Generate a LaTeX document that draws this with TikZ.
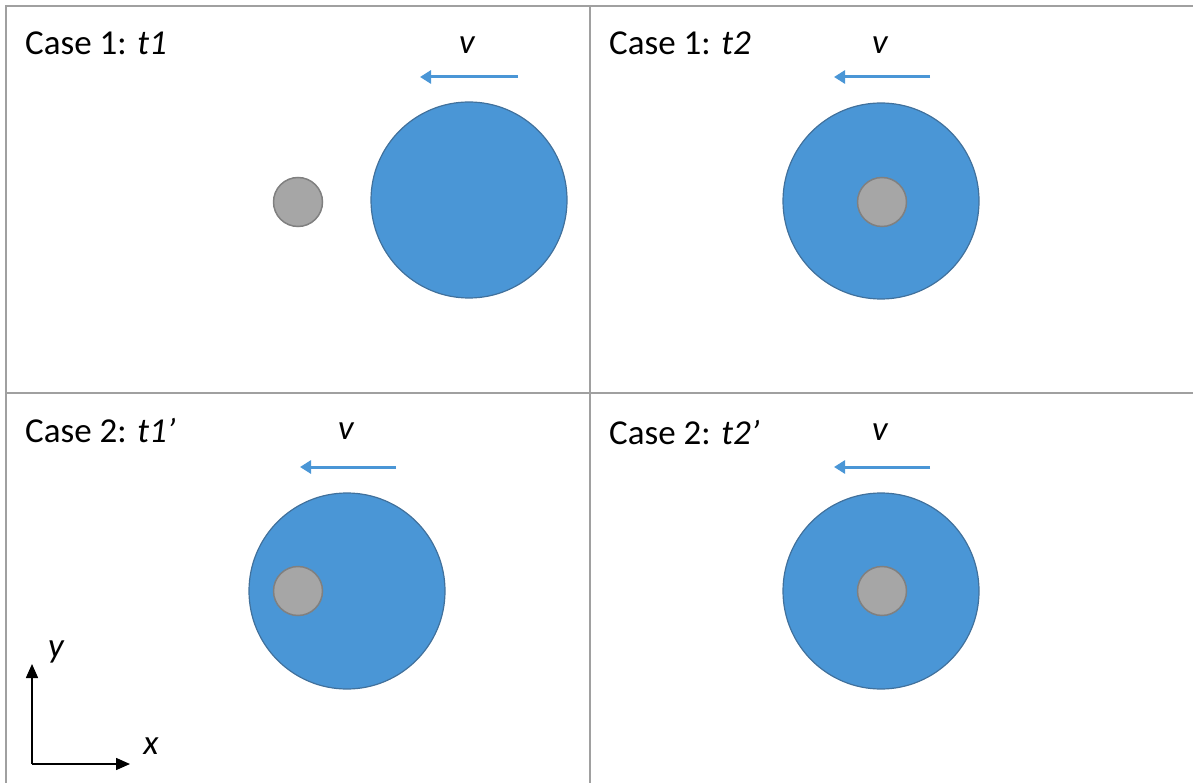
\documentclass[tikz,border=0pt]{standalone}
\usepackage{fontspec}
\setmainfont{Carlito}
\usepackage{tikz}
\usepackage{xcolor}
\definecolor{discblue}{RGB}{74,150,214}
\definecolor{discedge}{RGB}{65,113,156}
\definecolor{ballgray}{RGB}{166,166,166}
\definecolor{balledge}{RGB}{128,128,128}
\definecolor{gridgray}{RGB}{160,160,160}
\tikzset{
  disc/.style={circle, draw=discedge, fill=discblue, line width=1.2pt, minimum size=196pt, inner sep=0pt},
  ball/.style={circle, draw=balledge, fill=ballgray, line width=1.5pt, minimum size=49pt, inner sep=0pt},
  velarrow/.style={draw=discblue, line width=3pt, -{Triangle[length=11pt,width=13pt]}},
  caselabel/.style={anchor=west, inner sep=0pt, font=\fontsize{35}{42}\selectfont},
  vlabel/.style={inner sep=0pt, font=\fontsize{35}{42}\selectfont\itshape}
}
\usetikzlibrary{arrows.meta}
\begin{document}
\begin{tikzpicture}[x=1pt,y=-1pt]
\useasboundingbox (0,0) rectangle (1193,783);
% grid
\draw[gridgray, line width=2pt] (6,783) -- (6,6) -- (1193,6);
\draw[gridgray, line width=2pt] (590,6) -- (590,783);
\draw[gridgray, line width=2pt] (6,393) -- (1193,393);
% case 1, t1
\node[caselabel] (lab1) at (25,43) {Case 1: \textit{t1}};
\node[disc] (disc1) at (469,200) {};
\node[ball] (ball1) at (298,202) {};
\coordinate (v1s) at (518,77);
\coordinate (v1e) at (420,77);
\draw[velarrow] (v1s) -- (v1e);
\node[vlabel] (v1) at (467,45) {v};
% case 1, t2
\node[caselabel] (lab2) at (609,43) {Case 1: \textit{t2}};
\node[disc] (disc2) at (881,201) {};
\node[ball] (ball2) at (882,202) {};
\coordinate (v2s) at (930,77);
\coordinate (v2e) at (834,77);
\draw[velarrow] (v2s) -- (v2e);
\node[vlabel] (v2) at (880,45) {v};
% case 2, t1'
\node[caselabel] (lab3) at (25,431) {Case 2: \textit{t1’}};
\node[disc] (disc3) at (347,591) {};
\node[ball] (ball3) at (298,591) {};
\coordinate (v3s) at (396,467);
\coordinate (v3e) at (300,467);
\draw[velarrow] (v3s) -- (v3e);
\node[vlabel] (v3) at (346,431) {v};
% case 2, t2'
\node[caselabel] (lab4) at (609,433) {Case 2: \textit{t2’}};
\node[disc] (disc4) at (881,591) {};
\node[ball] (ball4) at (882,591) {};
\coordinate (v4s) at (930,467);
\coordinate (v4e) at (834,467);
\draw[velarrow] (v4s) -- (v4e);
\node[vlabel] (v4) at (880,432) {v};
% axes
\coordinate (o) at (32,764);
\coordinate (ytip) at (32,664);
\coordinate (xtip) at (130,764);
\draw[line width=1.5pt, -{Triangle[length=14pt,width=12pt]}] (o) -- (ytip);
\draw[line width=1.5pt, -{Triangle[length=14pt,width=12pt]}] (o) -- (xtip);
\node[vlabel] (ylab) at (56,652) {y};
\node[vlabel] (xlab) at (151,746) {x};
\end{tikzpicture}
\end{document}
